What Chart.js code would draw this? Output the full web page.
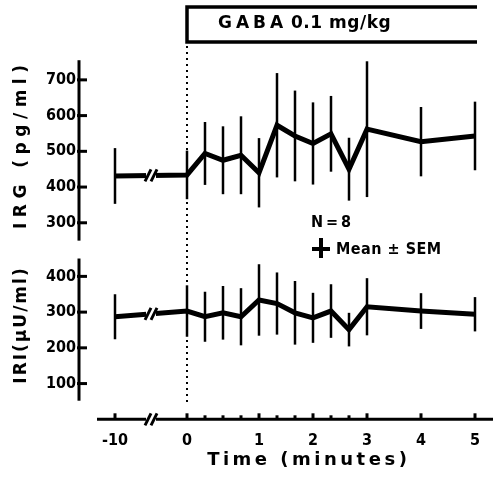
<!DOCTYPE html>
<html>
<head>
<meta charset="utf-8">
<script src="https://cdn.jsdelivr.net/npm/chart.js@4"></script>
<style>
html, body { margin: 0; padding: 0; background: #fff; }
#wrap { width: 493px; height: 477px; }
</style>
</head>
<body>
<div id="wrap"><canvas id="gabaChart" width="493" height="477"></canvas></div>
<script>
'use strict'

// the time axis of the figure is not linear: one slot per sample, -10 min sits before a break
const timeSlots = [-4, 0, 1, 2, 3, 4, 5, 6, 7, 8, 9, 10, 13, 16];
const xTickSlots = [-4, 0, 4, 7, 10, 13, 16];
const xTickLabels = ['-10', '0', '1', '2', '3', '4', '5'];

// IRG (pg/ml), mean and SEM
const irgMean = [431, 434, 494, 475, 489, 440, 573, 543, 522, 549, 450, 562, 527, 543];
const irgSem = [78, 68, 88, 95, 109, 97, 146, 127, 115, 106, 88, 190, 97, 96];
const irgTicks = [300, 400, 500, 600, 700];

// IRI (µU/ml), mean and SEM
const iriMean = [287, 303, 287, 298, 287, 334, 324, 298, 284, 303, 251, 315, 303, 294];
const iriSem = [63, 72, 70, 75, 80, 100, 87, 89, 70, 75, 47, 80, 50, 48];
const iriTicks = [100, 200, 300, 400];

const FONT = "'DejaVu Sans', sans-serif";
const FONT_C = "'DejaVu Sans Condensed', 'DejaVu Sans', sans-serif";
const INK = '#000';

function spacedText(ctx, text, x, y, spacing) {
    ctx.letterSpacing = spacing + 'px';
    const w = ctx.measureText(text).width - spacing;
    ctx.fillText(text, x - w / 2, y);
    ctx.letterSpacing = '0px';
}

function drawBreak(ctx, px, py) {
    ctx.save();
    ctx.fillStyle = '#fff';
    ctx.fillRect(px - 5, py - 4, 10, 8);
    ctx.strokeStyle = INK;
    ctx.lineWidth = 3;
    [-3, 3].forEach(d => {
        ctx.beginPath();
        ctx.moveTo(px + d - 3, py + 6);
        ctx.lineTo(px + d + 3, py - 6);
        ctx.stroke();
    });
    ctx.restore();
}

// axis lines, ticks, breaks, error bars and the annotations
const figurePlugin = {
    id: 'figure',
    beforeDatasetsDraw(chart) {
        const ctx = chart.ctx;
        const x = chart.scales.x;
        const yTop = chart.scales.yIrg;
        const yBot = chart.scales.yIri;
        const x0 = x.getPixelForValue(0);
        ctx.save();
        ctx.strokeStyle = INK;
        ctx.fillStyle = INK;
        ctx.lineCap = 'butt';

        // dotted line at injection time
        ctx.setLineDash([2, 4]);
        ctx.lineWidth = 2;
        ctx.beginPath();
        ctx.moveTo(x0, 46);
        ctx.lineTo(x0, 406);
        ctx.stroke();
        ctx.setLineDash([]);

        // y axis lines with ticks pointing inward
        ctx.lineWidth = 3;
        const yAxisX = chart.chartArea.left;
        [[yTop, 755, 250, irgTicks], [yBot, 450, 52, iriTicks]].forEach(([s, hi, lo, ticks]) => {
            ctx.beginPath();
            ctx.moveTo(yAxisX, s.getPixelForValue(hi));
            ctx.lineTo(yAxisX, s.getPixelForValue(lo));
            ctx.stroke();
            ticks.forEach(v => {
                const py = s.getPixelForValue(v);
                ctx.beginPath();
                ctx.moveTo(yAxisX - 2, py);
                ctx.lineTo(yAxisX + 8, py);
                ctx.stroke();
            });
        });

        // x axis line with small ticks at the samples
        const axisY = chart.chartArea.bottom;
        ctx.beginPath();
        ctx.moveTo(x.getPixelForValue(-5), axisY);
        ctx.lineTo(chart.width, axisY);
        ctx.stroke();
        timeSlots.forEach(t => {
            const px = x.getPixelForValue(t);
            const big = xTickSlots.includes(t);
            ctx.beginPath();
            ctx.moveTo(px, axisY);
            ctx.lineTo(px, axisY - (big ? 6 : 4));
            ctx.stroke();
        });
        drawBreak(ctx, x.getPixelForValue(-2), axisY);

        // error bars (mean ± SEM)
        ctx.lineWidth = 2.5;
        [[yTop, irgMean, irgSem], [yBot, iriMean, iriSem]].forEach(([s, mean, sem]) => {
            timeSlots.forEach((t, i) => {
                const px = x.getPixelForValue(t);
                ctx.beginPath();
                ctx.moveTo(px, s.getPixelForValue(mean[i] + sem[i]));
                ctx.lineTo(px, s.getPixelForValue(mean[i] - sem[i]));
                ctx.stroke();
            });
        });
        ctx.restore();
    },
    afterDatasetsDraw(chart) {
        const ctx = chart.ctx;
        const x = chart.scales.x;
        const x0 = x.getPixelForValue(0);
        ctx.save();
        ctx.strokeStyle = INK;
        ctx.fillStyle = INK;

        // breaks on the two lines between -10 and 0
        const bx = x.getPixelForValue(-2);
        [[chart.scales.yIrg, irgMean], [chart.scales.yIri, iriMean]].forEach(([s, mean]) => {
            const f = (-2 - timeSlots[0]) / (timeSlots[1] - timeSlots[0]);
            const v = mean[0] + (mean[1] - mean[0]) * f;
            drawBreak(ctx, bx, s.getPixelForValue(v));
        });

        // GABA box
        ctx.lineWidth = 3.5;
        ctx.beginPath();
        ctx.moveTo(477, 7);
        ctx.lineTo(x0, 7);
        ctx.lineTo(x0, 42);
        ctx.lineTo(477, 42);
        ctx.stroke();
        ctx.textBaseline = 'middle';
        ctx.font = 'bold 17px ' + FONT;
        ctx.textAlign = 'left';
        ctx.letterSpacing = '4px';
        ctx.fillText('GABA', 218, 24);
        ctx.letterSpacing = '0.5px';
        ctx.fillText('0.1 mg/kg', 291, 24);
        ctx.letterSpacing = '0px';

        // axis titles
        ctx.font = 'bold 17px ' + FONT;
        ctx.save();
        ctx.translate(22, 147);
        ctx.rotate(-Math.PI / 2);
        spacedText(ctx, 'IRG (pg/ml)', 0, 0, 5.5);
        ctx.restore();
        ctx.save();
        ctx.translate(22, 326);
        ctx.rotate(-Math.PI / 2);
        spacedText(ctx, 'IRI(µU/ml)', 0, 0, 2);
        ctx.restore();
        ctx.font = 'bold 18px ' + FONT;
        spacedText(ctx, 'Time (minutes)', 307, 460, 3.5);

        // legend
        ctx.font = 'bold 16px ' + FONT_C;
        ctx.textAlign = 'left';
        ctx.letterSpacing = '3px';
        ctx.fillText('N=8', 311, 223);
        ctx.letterSpacing = '0.5px';
        ctx.lineWidth = 4;
        ctx.beginPath();
        ctx.moveTo(321, 238);
        ctx.lineTo(321, 258);
        ctx.moveTo(312, 249);
        ctx.lineTo(330, 249);
        ctx.stroke();
        ctx.fillText('Mean ± SEM', 336, 250);
        ctx.letterSpacing = '0px';
        ctx.restore();
    }
};

function lineSet(label, mean, axis) {
    return {
        label: label,
        data: timeSlots.map((t, i) => ({ x: t, y: mean[i] })),
        yAxisID: axis,
        borderColor: INK,
        backgroundColor: INK,
        borderWidth: 5,
        borderJoinStyle: 'miter',
        pointRadius: 0,
        tension: 0
    };
}

const ctx = document.getElementById('gabaChart');
new Chart(ctx, {
    type: 'line',
    data: {
        datasets: [
            lineSet('IRG', irgMean, 'yIrg'),
            lineSet('IRI', iriMean, 'yIri')
        ]
    },
    options: {
        responsive: false,
        animation: false,
        layout: { padding: { left: 0, right: 0, top: 62, bottom: 0 } },
        plugins: {
            legend: { display: false },
            tooltip: { enabled: false }
        },
        scales: {
            x: {
                type: 'linear',
                min: -6,
                max: 17,
                afterBuildTicks: s => { s.ticks = xTickSlots.map(v => ({ value: v })); },
                afterFit: s => { s.height = 57.7; },
                ticks: {
                    autoSkip: false,
                    maxRotation: 0,
                    padding: 4,
                    color: INK,
                    font: { family: FONT_C, size: 16, weight: 'bold' },
                    callback: v => xTickLabels[xTickSlots.indexOf(v)]
                },
                grid: { display: false },
                border: { display: false }
            },
            // stacked left axes: the one declared first ends up at the bottom
            yIri: {
                type: 'linear',
                position: 'left',
                stack: 'panels',
                stackWeight: 1,
                min: 0,
                max: 500,
                afterBuildTicks: s => { s.ticks = iriTicks.map(v => ({ value: v })); },
                afterFit: s => { s.width = 79; },
                ticks: { padding: 3, color: INK, font: { family: FONT_C, size: 16, weight: 'bold' } },
                grid: { display: false, drawTicks: false },
                border: { display: false }
            },
            yIrg: {
                type: 'linear',
                position: 'left',
                stack: 'panels',
                stackWeight: 1,
                min: 250,
                max: 750,
                afterBuildTicks: s => { s.ticks = irgTicks.map(v => ({ value: v })); },
                afterFit: s => { s.width = 79; },
                ticks: { padding: 3, color: INK, font: { family: FONT_C, size: 16, weight: 'bold' } },
                grid: { display: false, drawTicks: false },
                border: { display: false }
            }
        }
    },
    plugins: [figurePlugin]
});
</script>
</body>
</html>
